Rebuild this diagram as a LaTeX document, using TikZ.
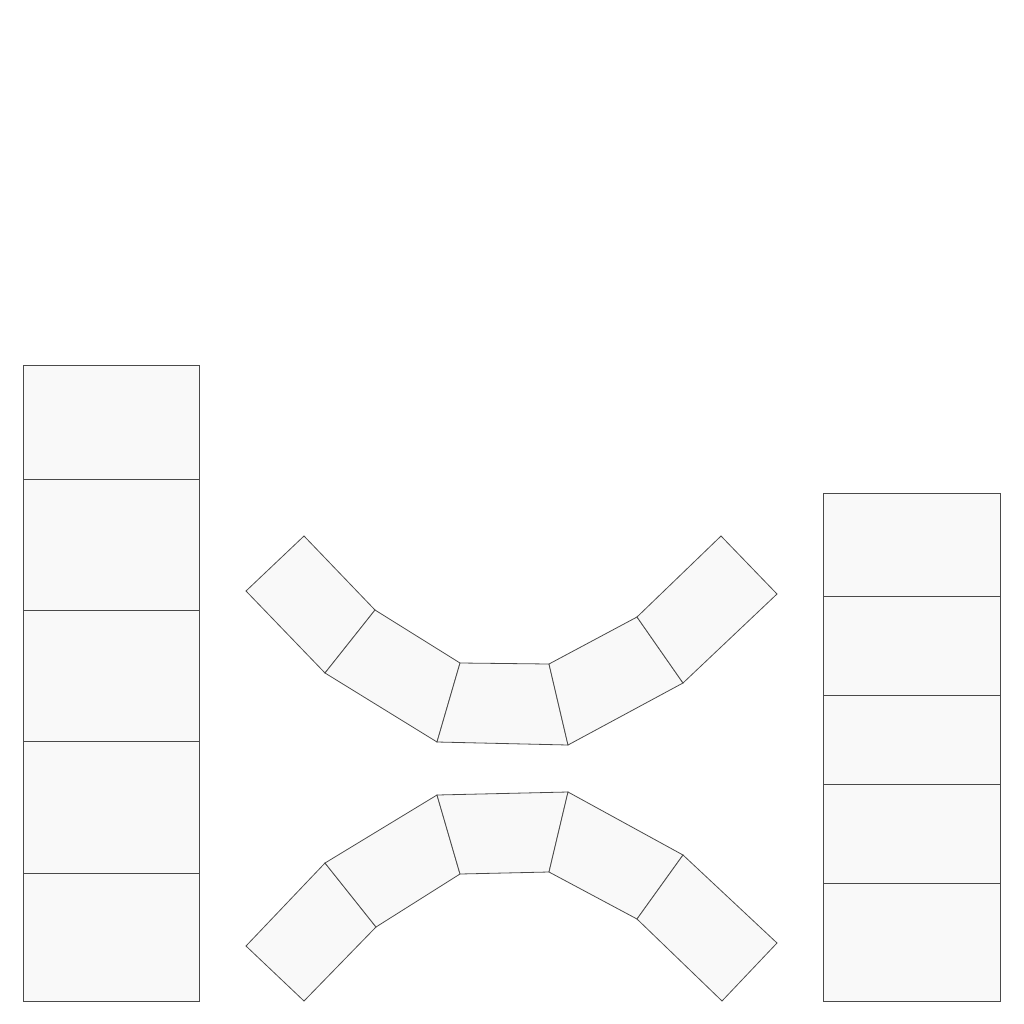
\documentclass[tikz,border=0pt]{standalone}
\definecolor{blockfill}{HTML}{F9F9F9}
\definecolor{blockline}{HTML}{4A4A4A}
\tikzset{
  blockpart/.style={fill=blockfill, draw=blockline, line width=0.8pt, line join=miter},
}
\begin{document}
\begin{tikzpicture}[x=1pt,y=-1pt]
\useasboundingbox (0,0) rectangle (1024,1024);
% left column
\foreach \ya/\yb in {365/479, 479/610, 610/741, 741/873, 873/1001}
  \filldraw[blockpart] (23,\ya) rectangle (199,\yb);
% right column
\foreach \ya/\yb in {493/596, 596/695, 695/784, 784/883, 883/1001}
  \filldraw[blockpart] (823,\ya) rectangle (1000,\yb);
% upper arc
\filldraw[blockpart] (304,536) -- (246,591) -- (325,673) -- (375,610) -- cycle;
\filldraw[blockpart] (375,610) -- (325,673) -- (437,742) -- (460,663) -- cycle;
\filldraw[blockpart] (460,663) -- (437,742) -- (568,745) -- (549,664) -- cycle;
\filldraw[blockpart] (549,664) -- (568,745) -- (683,683) -- (637,617) -- cycle;
\filldraw[blockpart] (637,617) -- (683,683) -- (777,594) -- (721,536) -- cycle;
% lower arc
\filldraw[blockpart] (246,946) -- (304,1001) -- (376,927) -- (325,863) -- cycle;
\filldraw[blockpart] (325,863) -- (376,927) -- (460,874) -- (437,795) -- cycle;
\filldraw[blockpart] (437,795) -- (460,874) -- (549,872) -- (568,792) -- cycle;
\filldraw[blockpart] (568,792) -- (549,872) -- (637,919) -- (683,855) -- cycle;
\filldraw[blockpart] (683,855) -- (637,919) -- (722,1001) -- (777,943) -- cycle;
\end{tikzpicture}
\end{document}
